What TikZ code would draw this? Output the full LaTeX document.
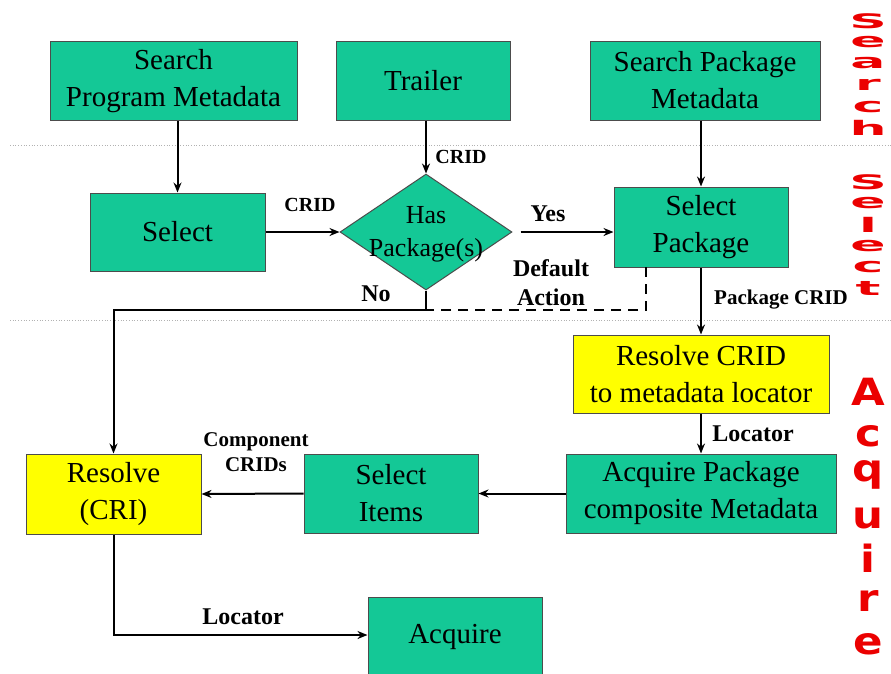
\documentclass[tikz,border=0pt]{standalone}
\usepackage{fontspec}
\setmainfont{Liberation Serif}
\newfontfamily\sidefont{DejaVu Sans}
\usetikzlibrary{shapes.geometric,arrows.meta}
\definecolor{boxgreen}{RGB}{20,200,150}
\definecolor{boxyellow}{RGB}{255,255,0}
\definecolor{sidered}{RGB}{235,0,0}
\tikzset{
  gbox/.style={draw=black!70,line width=1pt,fill=boxgreen,align=center,inner sep=0pt,font=\fontsize{29}{37}\selectfont},
  ybox/.style={gbox,fill=boxyellow},
  lab/.style={font=\bfseries\fontsize{22}{24}\selectfont,align=center,inner sep=0pt},
  conn/.style={line width=2pt,-{Stealth[length=10pt,width=8pt]}},
  plain/.style={line width=2pt},
  sep/.style={gray!60,line width=0.7pt,dotted},
  sidel/.style={text=sidered,inner sep=0pt},
  sidesmall/.style={sidel,font=\sidefont\bfseries\fontsize{20}{20}\selectfont,xscale=2.6,yscale=1.0},
  sidebig/.style={sidel,font=\sidefont\bfseries\fontsize{30}{30}\selectfont,xscale=1.45,yscale=1.25}
}
\begin{document}
\begin{tikzpicture}[x=1pt,y=-1pt]
\useasboundingbox (0,0) rectangle (891,673);
% separators
\draw[sep] (10,145) -- (891,145);
\draw[sep] (10,320) -- (891,320);
% boxes
\node[gbox,minimum width=247pt,minimum height=79pt] (spm) at (173.5,81) {Search\\Program Metadata};
\node[gbox,minimum width=174pt,minimum height=79pt] (trl) at (423,80.5) {Trailer};
\node[gbox,minimum width=230pt,minimum height=79pt] (spk) at (705,80.5) {Search Package\\Metadata};
\node[gbox,minimum width=175pt,minimum height=78pt] (sel) at (177.5,232) {Select};
\node[diamond,draw=black!70,line width=1pt,fill=boxgreen,minimum width=172pt,minimum height=116pt,inner sep=0pt] (dia) at (426,232) {};
\node[align=center,font=\fontsize{26}{33}\selectfont,inner sep=0pt] (diat) at (426,234) {Has\\Package(s)};
\node[gbox,minimum width=174pt,minimum height=80pt] (spkg) at (701,227) {Select\\Package};
\node[ybox,minimum width=256pt,minimum height=78pt] (rcr) at (701,374) {Resolve CRID\\to metadata locator};
\node[ybox,minimum width=175pt,minimum height=80pt] (res) at (113.5,494) {Resolve\\(CRI)};
\node[gbox,minimum width=174pt,minimum height=79pt] (sit) at (391,493.5) {Select\\Items};
\node[gbox,minimum width=270pt,minimum height=79pt] (apk) at (701,493.5) {Acquire Package\\composite Metadata};
\node[gbox,minimum width=174pt,minimum height=80pt] (acq) at (455,637) {Acquire};
% coordinates
\coordinate (nob) at (426,310);
\coordinate (noleft) at (113.5,310);
\coordinate (dtop) at (646,267);
\coordinate (dcor) at (646,310);
\coordinate (lcor) at (113.5,635);
% connectors
\draw[conn] (spm.south -| sel.north) -- (sel.north);
\draw[conn] (trl.south -| dia.north) -- (dia.north);
\draw[conn] (sel.east) -- (dia.west);
\draw[conn] ([xshift=8pt]dia.east) -- (dia.east -| spkg.west);
\draw[conn] (spk.south -| spkg.north) -- (spkg.north);
\draw[plain] (dia.south) -- (nob);
\draw[conn] (nob) -- (noleft) -- (res.north);
\draw[plain,dash pattern=on 10pt off 7pt] (dtop) -- (dcor) -- (nob);
\draw[conn] (spkg.south) -- (rcr.north);
\draw[conn] (rcr.south) -- (apk.north);
\draw[conn] (apk.west) -- (sit.east);
\draw[conn] (sit.west) -- (res.east);
\draw[conn] (res.south) -- (lcor) -- (acq.west |- lcor);
% labels
\node[lab,font=\bfseries\fontsize{20}{22}\selectfont] at (461,157) {CRID};
\node[lab,font=\bfseries\fontsize{20}{22}\selectfont] at (310,205) {CRID};
\node[lab,font=\bfseries\fontsize{24}{26}\selectfont] at (548,214) {Yes};
\node[lab,font=\bfseries\fontsize{24}{26}\selectfont] at (376,294) {No};
\node[lab,font=\bfseries\fontsize{24}{29}\selectfont] at (551,283) {Default\\Action};
\node[lab,font=\bfseries\fontsize{21}{23}\selectfont] at (781,300) {Package CRID};
\node[lab,font=\bfseries\fontsize{24}{26}\selectfont] at (753,434) {Locator};
\node[lab,font=\bfseries\fontsize{21}{25}\selectfont] at (256,452) {Component\\CRIDs};
\node[lab,font=\bfseries\fontsize{24}{26}\selectfont] at (243,617) {Locator};
% side words
\foreach \l/\y in {S/21,e/42,a/63,r/85,c/107,h/128}
  \node[sidesmall] at (868,\y) {\l};
\foreach \l/\y in {S/182,e/203,l/225,e/246,c/267,t/288}
  \node[sidesmall] at (868,\y) {\l};
\foreach \l/\y in {A/392,c/436,q/475,u/518,i/558,r/601,e/644}
  \node[sidebig] at (868,\y) {\l};
\end{tikzpicture}
\end{document}
